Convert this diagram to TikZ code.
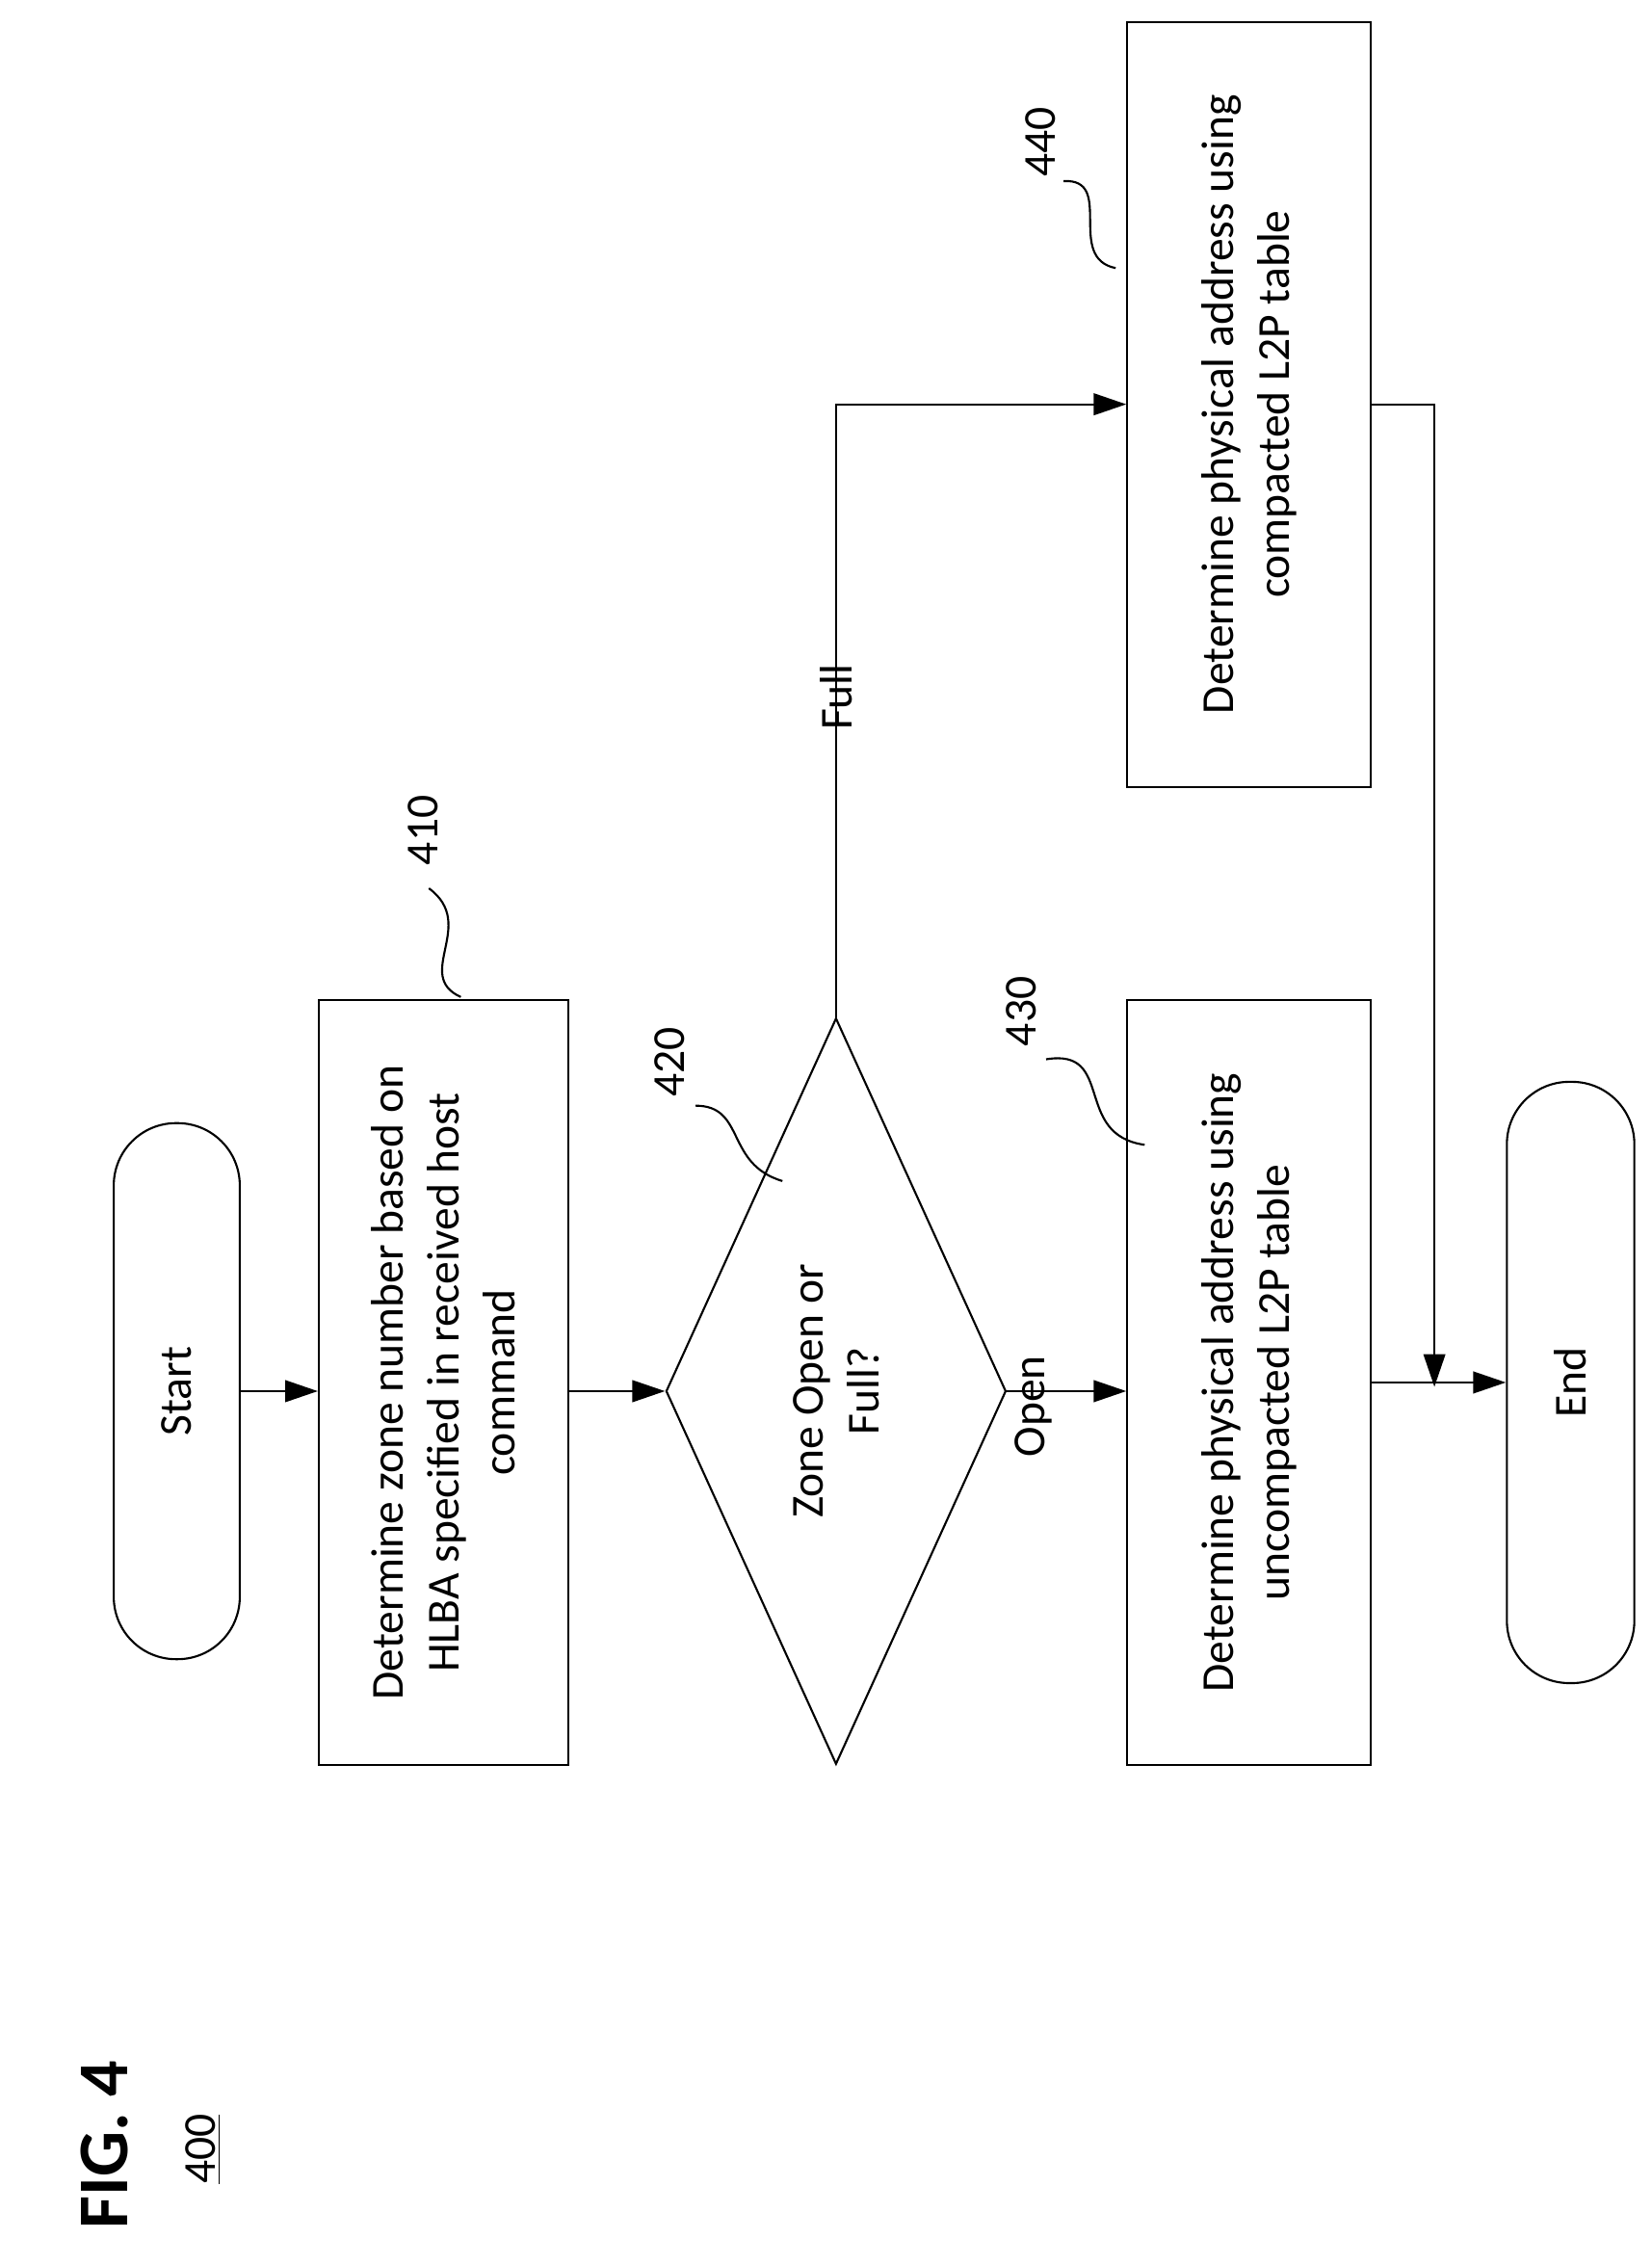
\documentclass[tikz,border=0pt]{standalone}
\usepackage{fontspec}
\setmainfont{Carlito}
\usepackage{tikz}
\usetikzlibrary{arrows.meta, shapes.geometric}

\tikzset{
  box/.style={draw, thick, rotate=90, align=center, inner sep=0pt, font=\fontsize{18}{22}\selectfont},
  term/.style={box, rounded corners=0.86cm},
  flow/.style={-{Triangle[length=0.45cm, width=0.3cm]}, thick},
  callout/.style={thick},
  ref/.style={rotate=90, font=\fontsize{18}{22}\selectfont}
}

\begin{document}
\begin{tikzpicture}[x=0.02cm, y=0.02cm]
            \useasboundingbox (0,0) rectangle (1140,1563);

            \node[term, minimum width=7.4cm, minimum height=1.74cm] at (122, 603) (start) {Start};
            \node[box, minimum width=10.56cm, minimum height=3.44cm] at (306, 609) (b410) {Determine zone number based on\\HLBA specified in received host\\command};
            \node[draw, thick, diamond, rotate=90, inner sep=0pt, minimum width=10.3cm, minimum height=4.54cm, align=center, font=\fontsize{18}{22}\selectfont] at (577, 603) (dia) {Zone Open or\\Full?};
            \node[box, minimum width=10.56cm, minimum height=3.36cm] at (862, 609) (b430) {Determine physical address using\\uncompacted L2P table};
            \node[box, minimum width=10.56cm, minimum height=3.36cm] at (862, 1284) (b440) {Determine physical address using\\compacted L2P table};
            \node[term, minimum width=8.3cm, minimum height=1.76cm] at (1084, 609) (end) {End};
            \coordinate (m) at (990, 606);

            \draw [flow] (start.south) -- (b410.north |- start.south);
            \draw [flow] (b410.south |- dia.north) -- (dia.north);
            \draw [flow] (dia.south) -- node[ref, above, yshift=2pt, xshift=-6pt] (open) {Open} (b430.north |- dia.south);
            \draw [flow] (dia.east) |- node[ref, pos=0.3, left, xshift=-2pt] (full) {Full} (b440.north);
            \draw [flow] (b430.south |- end.north) -- (end.north);
            \draw [flow] (b440.south) -| (m);

            % reference numerals
            \node[ref] at (292, 990) (n410) {410};
            \draw [callout] (296, 950) .. controls (330, 925) and (285, 890) .. (318, 875);
            \node[ref] at (462, 830) (n420) {420};
            \draw [callout] (480, 800) .. controls (515, 800) and (500, 760) .. (540, 748);
            \node[ref] at (705, 865) (n430) {430};
            \draw [callout] (722, 832) .. controls (770, 840) and (740, 780) .. (790, 773);
            \node[ref] at (718, 1465) (n440) {440};
            \draw [callout] (734, 1438) .. controls (770, 1440) and (735, 1385) .. (770, 1378);

            \node[rotate=90, font=\fontsize{28}{32}\selectfont\bfseries] at (72, 83) (fig) {FIG. 4};
            \node[ref] at (140, 80) (n400) {\underline{400}};
        \end{tikzpicture}
\end{document}
